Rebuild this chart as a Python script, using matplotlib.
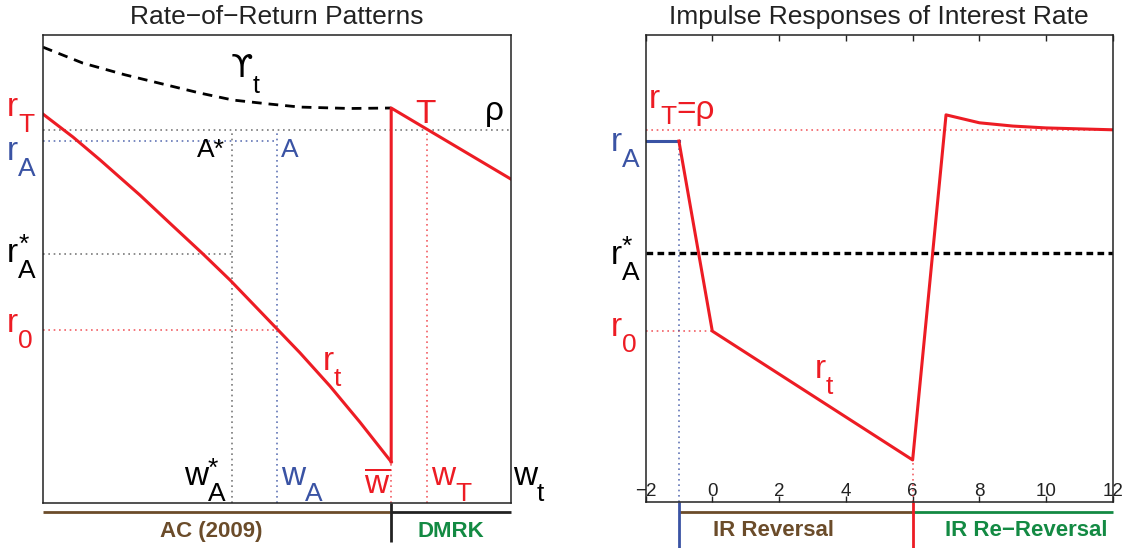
import matplotlib
matplotlib.use('agg')
import matplotlib.pyplot as plt

plt.rcParams['font.family'] = ['Liberation Sans', 'DejaVu Sans']
plt.rcParams['mathtext.fontset'] = 'custom'
plt.rcParams['mathtext.rm'] = 'Liberation Sans'

ROJO = '#ED1C24'
AZUL = '#3A53A4'
CAFE = '#6B4C2A'
VERDE = '#138A43'
GRIS = '#7A7A7A'

# --- panel izquierdo: patrones de tasa de retorno (unidades normalizadas) ---
rho = 0.797
rA = 0.774
rA_star = 0.532
r0 = 0.370
wA_star = 0.404
wA = 0.500
wbar = 0.744
wT = 0.821

w_rt = [0.0, 0.064, 0.122, 0.207, 0.271, 0.342, 0.400, 0.500, 0.549, 0.613,
        0.677, 0.744]
r_rt = [0.831, 0.782, 0.733, 0.658, 0.598, 0.532, 0.476, 0.372, 0.321, 0.250,
        0.173, 0.088]
w_post = [0.744, 0.744, 1.0]
r_post = [0.088, 0.844, 0.692]
w_ups = [0.0, 0.085, 0.175, 0.265, 0.335, 0.406, 0.479, 0.549, 0.656, 0.744]
ups = [0.974, 0.940, 0.915, 0.893, 0.876, 0.861, 0.853, 0.846, 0.843, 0.844]

# --- panel derecho: respuesta al impulso de la tasa de interes ---
t_azul = [-2, -1]
r_azul = [0.773, 0.773]
t_ir = [-1, 0, 6, 7, 8, 9, 10, 11, 12]
r_ir = [0.773, 0.366, 0.090, 0.829, 0.812, 0.805, 0.801, 0.799, 0.797]
rho_ir = 0.797
rA_star_ir = 0.533
r0_ir = 0.366
ticks_ir = [-2, 0, 2, 4, 6, 8, 10, 12]


def etiqueta(ax, x, y, base, sub='', sup='', color='k', size=24, ssize=19,
             sub_off=(0, -6.5), sup_off=(0, 12), extra='', family=None):
    t = ax.text(x, y, base, color=color, fontsize=size, va='baseline',
                ha='left', clip_on=False, family=family)
    s = None
    if sub:
        s = ax.annotate(sub, xy=(1, 0), xycoords=t, xytext=sub_off,
                        textcoords='offset points', color=color,
                        fontsize=ssize, va='baseline', ha='left',
                        annotation_clip=False)
    if sup:
        ax.annotate(sup, xy=(1, 0), xycoords=t, xytext=sup_off,
                    textcoords='offset points', color=color,
                    fontsize=ssize, va='baseline', ha='left',
                    annotation_clip=False)
    if extra and s is not None:
        ax.annotate(extra, xy=(1, 0), xycoords=s,
                    xytext=(0, -sub_off[1] + 0.5), textcoords='offset points',
                    color=color, fontsize=size, va='baseline', ha='left',
                    annotation_clip=False)
    return t


fig = plt.figure(figsize=(11.32, 5.48), dpi=100)
ax1 = fig.add_axes([43 / 1132, 45 / 548, 468 / 1132, 468 / 548])
ax2 = fig.add_axes([645.5 / 1132, 46 / 548, 467.5 / 1132, 467 / 548])

for ax in (ax1, ax2):
    for sp in ax.spines.values():
        sp.set_linewidth(1.1)
        sp.set_color('#222222')

punteado = (0, (1, 2.2))

# panel izquierdo
ax1.set_xlim(0, 1)
ax1.set_ylim(0, 1)
ax1.set_xticks([])
ax1.set_yticks([])

ax1.plot([0, 1], [rho, rho], color=GRIS, lw=1.2, ls=punteado)
ax1.plot([0, wA], [rA, rA], color=AZUL, lw=1.2, ls=punteado, alpha=0.8)
ax1.plot([0, wA_star], [rA_star, rA_star], color=GRIS, lw=1.2, ls=punteado)
ax1.plot([0, wA], [r0, r0], color=ROJO, lw=1.2, ls=punteado, alpha=0.7)
ax1.plot([wA_star, wA_star], [0, rho - 0.006], color=GRIS, lw=1.2, ls=punteado)
ax1.plot([wA, wA], [0, rho - 0.006], color=AZUL, lw=1.2, ls=punteado, alpha=0.8)
ax1.plot([wbar, wbar], [0, r_rt[-1]], color=ROJO, lw=1.2, ls=punteado, alpha=0.7)
ax1.plot([wT, wT], [0, rho], color=ROJO, lw=1.2, ls=punteado, alpha=0.7)

ax1.plot(w_ups, ups, color='k', lw=2, ls=(0, (3.5, 2.5)))
ax1.plot(w_rt, r_rt, color=ROJO, lw=2.2)
ax1.plot(w_post, r_post, color=ROJO, lw=2.2)

ax1.set_title('Rate\u2212of\u2212Return Patterns', fontsize=19, pad=8,
              color='#222222')

etiqueta(ax1, -0.077, 0.827, 'r', sub='T', color=ROJO)
etiqueta(ax1, -0.077, 0.733, 'r', sub='A', color=AZUL)
etiqueta(ax1, -0.077, 0.515, 'r', sub='A', sup='*', color='k')
etiqueta(ax1, -0.077, 0.365, 'r', sub='0', color=ROJO)
etiqueta(ax1, 0.400, 0.910, '\u03d2', sub='t', color='k', size=23, ssize=18,
         family='DejaVu Sans')
etiqueta(ax1, 0.795, 0.812, 'T', color=ROJO)
etiqueta(ax1, 0.945, 0.818, '\u03c1', color='k')
ax1.text(0.329, 0.739, 'A*', color='k', fontsize=19, va='baseline')
ax1.text(0.509, 0.739, 'A', color=AZUL, fontsize=19, va='baseline')
etiqueta(ax1, 0.598, 0.284, 'r', sub='t', color=ROJO)
etiqueta(ax1, 0.301, 0.038, 'w', sub='A', sup='*', color='k')
etiqueta(ax1, 0.509, 0.038, 'w', sub='A', color=AZUL)
ax1.text(0.686, 0.021, r'$\overline{\mathrm{w}}$', color=ROJO, fontsize=24,
         va='baseline')
etiqueta(ax1, 0.829, 0.038, 'w', sub='T', color=ROJO)
etiqueta(ax1, 1.004, 0.038, 'w', sub='t', color='k')

# barras de referencia bajo el eje
ax1.plot([0, wbar], [-0.019, -0.019], color=CAFE, lw=2, clip_on=False,
         solid_capstyle='butt')
ax1.plot([wbar, 1], [-0.019, -0.019], color='#222222', lw=2, clip_on=False,
         solid_capstyle='butt')
ax1.plot([wbar, wbar], [0, -0.083], color='#222222', lw=2, clip_on=False,
         solid_capstyle='butt')
ax1.text(0.36, -0.06, 'AC (2009)', color=CAFE, fontsize=16,
         fontweight='bold', ha='center', va='center')
ax1.text(0.872, -0.06, 'DMRK', color=VERDE, fontsize=16, fontweight='bold',
         ha='center', va='center')

# panel derecho
ax2.set_xlim(-2, 12)
ax2.set_ylim(0, 1)
ax2.set_yticks([])
ax2.set_xticks(ticks_ir)
ax2.set_xticklabels([str(v) if v >= 0 else '\u2212' + str(-v) for v in ticks_ir])
ax2.tick_params(axis='x', direction='in', top=True, length=4, width=1,
                pad=-14, labelsize=13.5, colors='#222222')

ax2.plot([-2, 12], [rho_ir, rho_ir], color=ROJO, lw=1.2, ls=punteado, alpha=0.7)
ax2.plot([-2, 0], [r0_ir, r0_ir], color=ROJO, lw=1.2, ls=punteado, alpha=0.7)
ax2.plot([-1, -1], [0, r_azul[-1]], color=AZUL, lw=1.2, ls=punteado, alpha=0.8)
ax2.plot([6, 6], [0, r_ir[2]], color=ROJO, lw=1.2, ls=punteado, alpha=0.7)
ax2.plot([-2, 12], [rA_star_ir, rA_star_ir], color='k', lw=2.4,
         ls=(0, (2, 1.3)))
ax2.plot(t_azul, r_azul, color=AZUL, lw=2.2)
ax2.plot(t_ir, r_ir, color=ROJO, lw=2.2)

ax2.set_title('Impulse Responses of Interest Rate', fontsize=19, pad=8,
              color='#222222')

etiqueta(ax2, -3.04, 0.752, 'r', sub='A', color=AZUL)
etiqueta(ax2, -3.04, 0.510, 'r', sub='A', sup='*', color='k')
etiqueta(ax2, -3.04, 0.355, 'r', sub='0', color=ROJO)
etiqueta(ax2, -1.90, 0.844, 'r', sub='T', color=ROJO, extra='=\u03c1')
etiqueta(ax2, 3.06, 0.266, 'r', sub='t', color=ROJO)

ax2.plot([-1, 6], [-0.021, -0.021], color=CAFE, lw=2, clip_on=False,
         solid_capstyle='butt')
ax2.plot([6, 12], [-0.021, -0.021], color=VERDE, lw=2, clip_on=False,
         solid_capstyle='butt')
ax2.plot([-1, -1], [0, -0.1], color=AZUL, lw=2, clip_on=False,
         solid_capstyle='butt')
ax2.plot([6, 6], [0, -0.1], color=ROJO, lw=2, clip_on=False,
         solid_capstyle='butt')
ax2.text(1.83, -0.06, 'IR Reversal', color=CAFE, fontsize=16,
         fontweight='bold', ha='center', va='center')
ax2.text(9.39, -0.06, 'IR Re\u2212Reversal', color=VERDE, fontsize=16,
         fontweight='bold', ha='center', va='center')

fig.savefig('out.png', dpi=100)
